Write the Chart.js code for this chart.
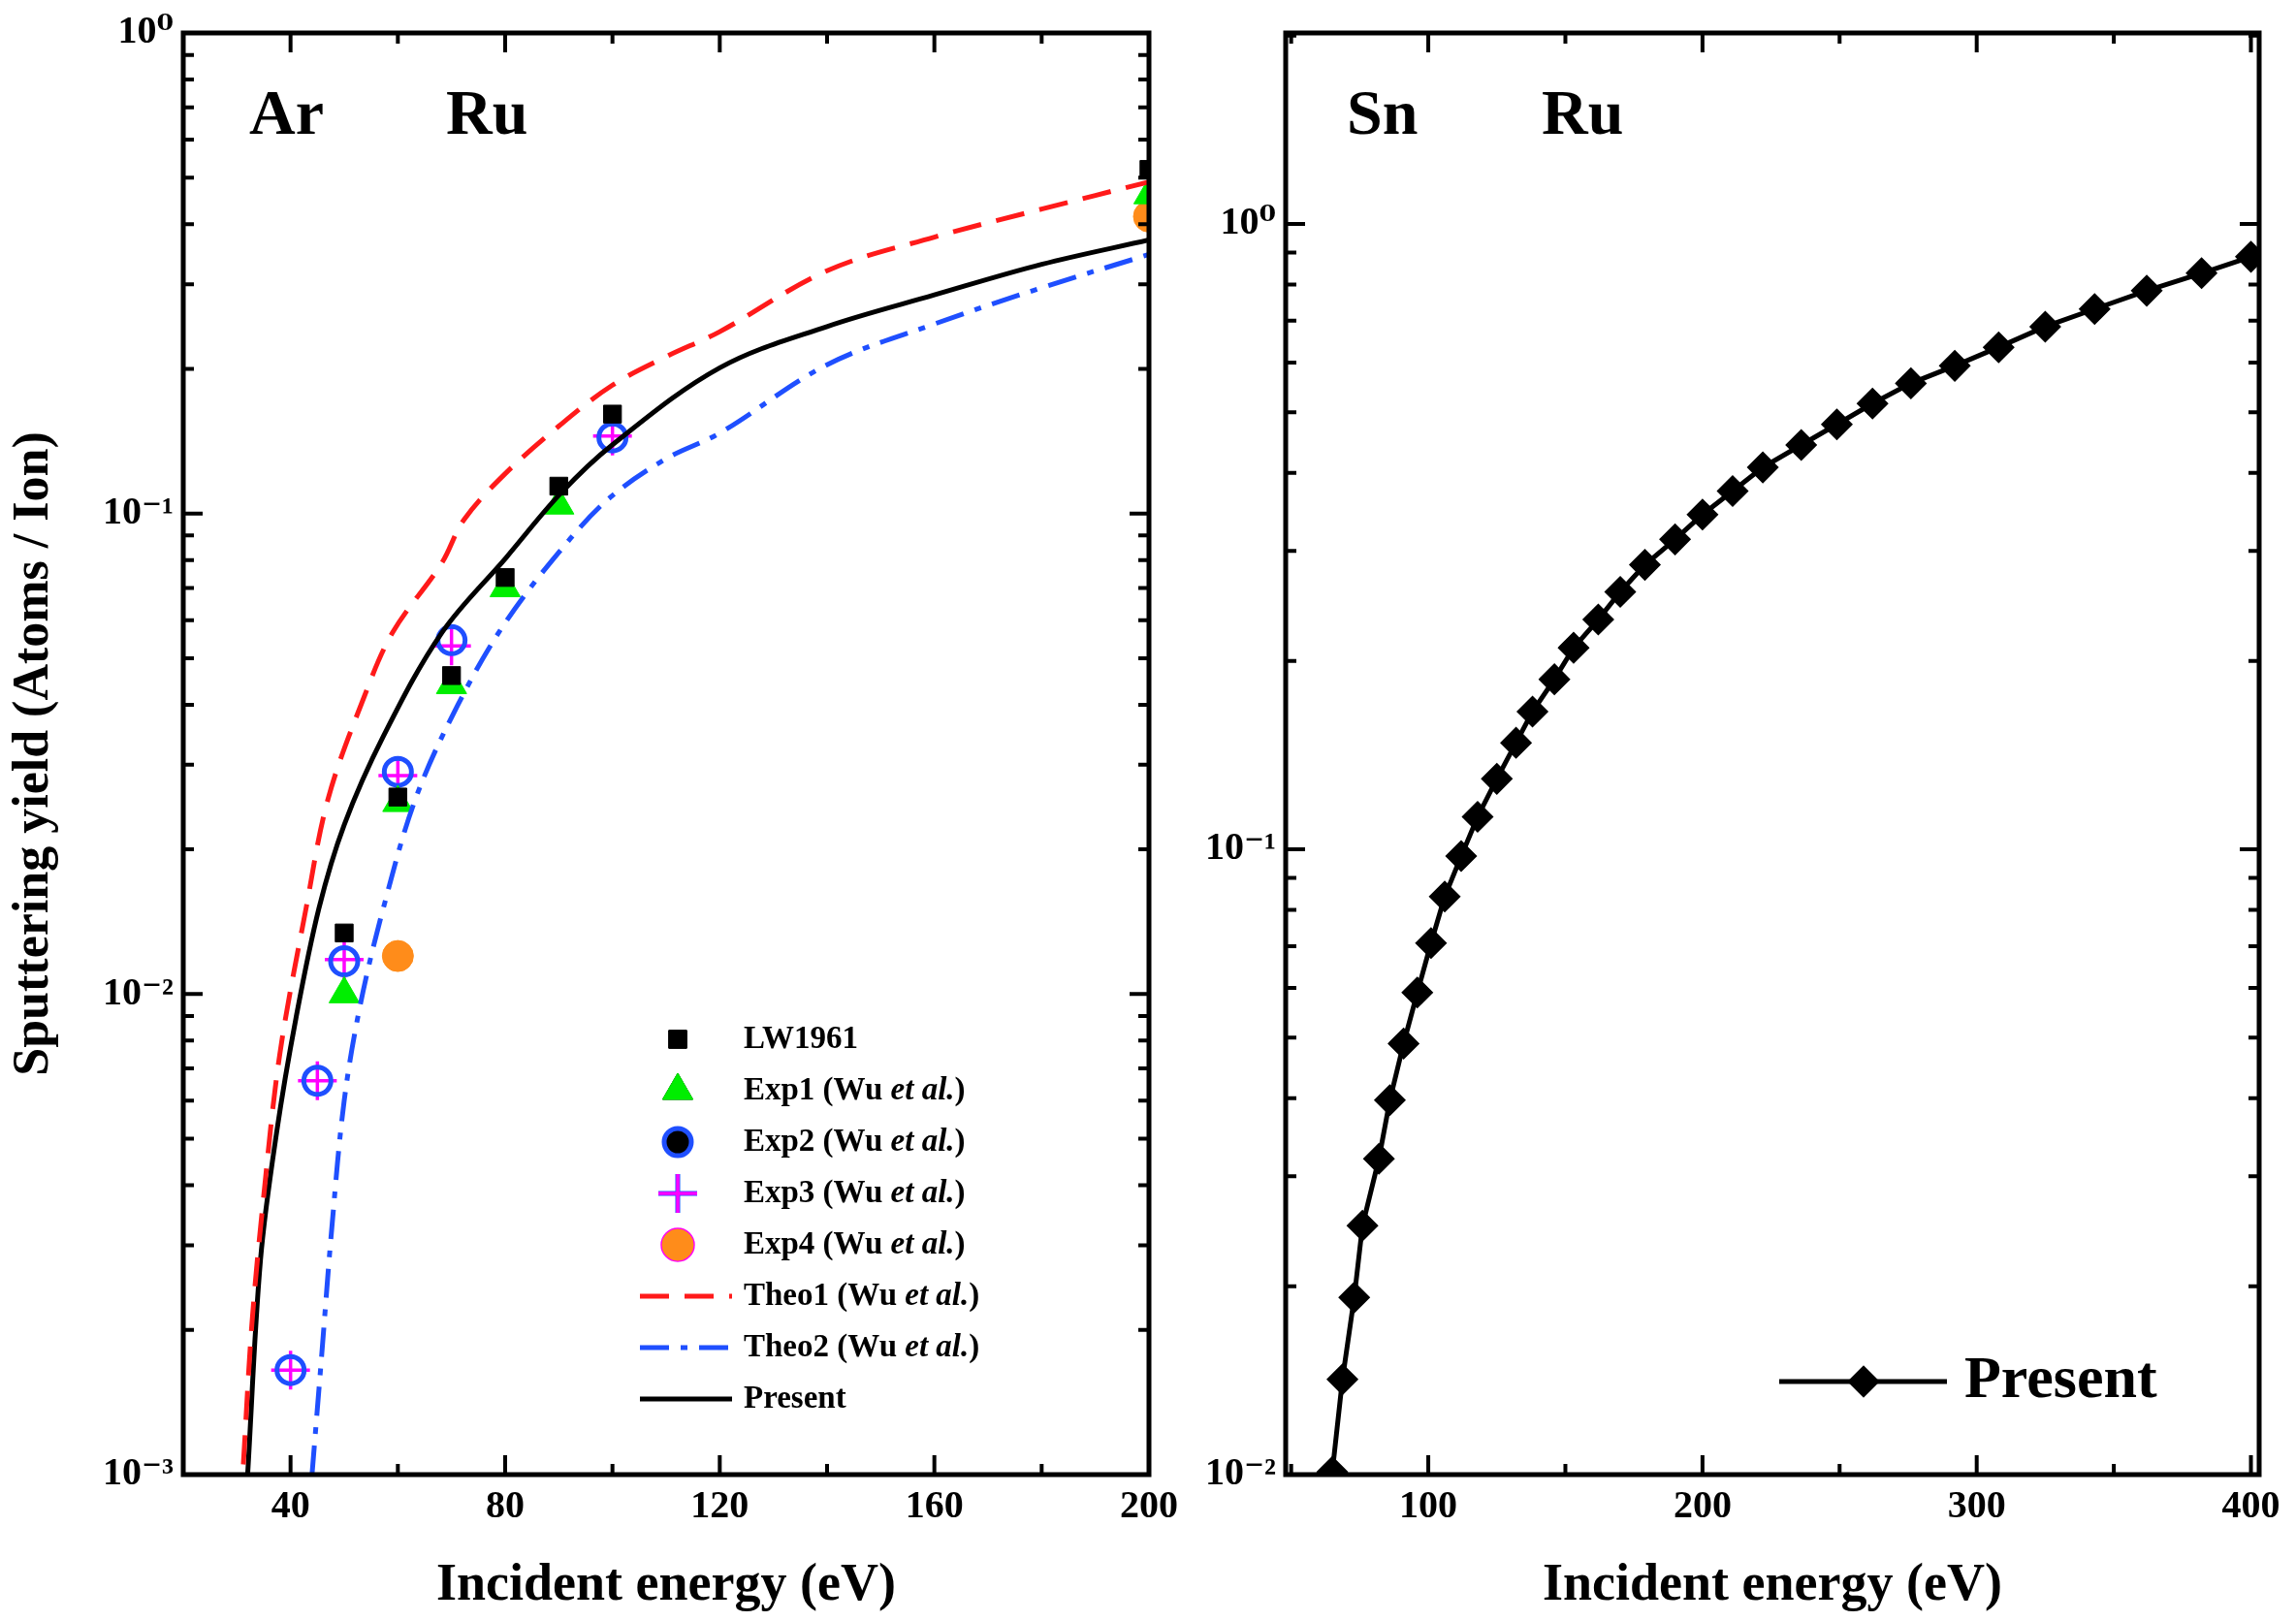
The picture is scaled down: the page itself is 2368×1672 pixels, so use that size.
<!DOCTYPE html>
<html>
<head>
<meta charset="utf-8">
<script src="https://cdn.jsdelivr.net/npm/chart.js@4.4.1/dist/chart.umd.min.js"></script>
<style>
body { margin: 0; background: #fff; width: 2368px; height: 1672px; position: relative; overflow: hidden; }
#c1 { position: absolute; left: 0; top: 0; }
#c2 { position: absolute; left: 1240px; top: 0; }
</style>
</head>
<body>
<canvas id="c1" width="1240" height="1672"></canvas>
<canvas id="c2" width="1128" height="1672"></canvas>
<script>
// ---- left panel: Ar -> Ru ----
const lwE = [50, 60, 70, 80, 90, 100, 200];
const lwY = [0.0134, 0.0257, 0.046, 0.0736, 0.114, 0.161, 0.52];
const exp1E = [50, 60, 70, 80, 90, 200];
const exp1Y = [0.0100, 0.025, 0.044, 0.070, 0.104, 0.46];
const exp2E = [40, 45, 50, 60, 70, 100];
const exp2Y = [0.00165, 0.0066, 0.0117, 0.029, 0.0545, 0.144];
const exp3E = [40, 45, 50, 60, 70, 100];
const exp3Y = [0.00165, 0.0066, 0.0118, 0.0285, 0.053, 0.145];
const exp4E = [60, 200];
const exp4Y = [0.012, 0.415];
const theo1E = [31.2, 32.8, 35, 38, 42.9, 47, 53.7, 59, 68.2, 72.3, 80, 90, 100, 110, 120, 140, 160, 180, 200];
const theo1Y = [0.00105, 0.00206, 0.0038, 0.0075, 0.0151, 0.0255, 0.0415, 0.0565, 0.0789, 0.097, 0.121, 0.152, 0.185, 0.212, 0.239, 0.32, 0.376, 0.43, 0.49];
const theo2E = [44, 45.8, 47.7, 50, 53, 57.3, 63.3, 71.2, 80.2, 92.2, 100, 110, 120, 140, 160, 180, 200];
const theo2Y = [0.001, 0.00177, 0.00327, 0.006, 0.0095, 0.0151, 0.0255, 0.04, 0.0597, 0.0888, 0.109, 0.13, 0.147, 0.204, 0.248, 0.295, 0.346];
const presE = [32, 34.4, 37.4, 41, 45.3, 50, 57.3, 68.2, 80.2, 90.3, 100, 120, 140, 160, 180, 200];
const presY = [0.001, 0.0028, 0.00515, 0.0089, 0.0151, 0.0225, 0.0344, 0.0565, 0.081, 0.110, 0.139, 0.201, 0.245, 0.285, 0.33, 0.371];

// ---- right panel: Sn -> Ru ----
const snE = [65, 68.7, 73, 76, 82, 86, 91, 96, 101, 106, 112, 118, 125, 132, 138, 146, 153, 162, 170, 179, 190, 200, 211, 222, 236, 249, 262, 276, 292, 308, 325, 343, 362, 382, 400];
const snY = [0.0101, 0.0142, 0.0192, 0.025, 0.032, 0.0397, 0.0489, 0.059, 0.0708, 0.084, 0.0975, 0.1127, 0.1296, 0.148, 0.166, 0.187, 0.21, 0.233, 0.258, 0.285, 0.313, 0.343, 0.374, 0.408, 0.443, 0.478, 0.516, 0.556, 0.593, 0.635, 0.685, 0.731, 0.782, 0.834, 0.886];

const xTicksL = [40, 80, 120, 160, 200];
const xMinorL = [20, 60, 100, 140, 180];
const yTicksL = [0.001, 0.01, 0.1, 1];
const xTicksR = [100, 200, 300, 400];
const xMinorR = [50, 150, 250, 350];
const yTicksR = [0.01, 0.1, 1];

const FONT = '"Liberation Serif", "DejaVu Serif", serif';
const sup = {'-': '\u207B', '0': '\u2070', '1': '\u00B9', '2': '\u00B2', '3': '\u00B3'};
function powLabel(v) {
  const e = String(Math.round(Math.log10(v)));
  return '10' + e.split('').map(ch => sup[ch]).join('');
}
const pts = (xs, ys) => xs.map((x, i) => ({x: x, y: ys[i]}));

function minorLog(ticks) {
  const out = [];
  for (let i = 0; i < ticks.length; i++) {
    for (let k = 2; k <= 9; k++) out.push(ticks[i] * k);
  }
  return out;
}

// frame + inward ticks + labels
const framePlugin = {
  id: 'frame',
  afterDatasetsDraw(chart, args, opts) {
    const c = chart.ctx, a = chart.chartArea;
    const sx = chart.scales.x, sy = chart.scales.y;
    c.save();
    c.strokeStyle = '#000';
    c.lineWidth = 5;
    c.strokeRect(a.left, a.top, a.right - a.left, a.bottom - a.top);
    c.lineWidth = 4;
    const tick = (v, len, axis) => {
      c.beginPath();
      if (axis === 'x') {
        const p = sx.getPixelForValue(v);
        if (p < a.left || p > a.right) return;
        c.moveTo(p, a.bottom); c.lineTo(p, a.bottom - len);
        c.moveTo(p, a.top); c.lineTo(p, a.top + len);
      } else {
        const p = sy.getPixelForValue(v);
        if (p < a.top - 1 || p > a.bottom + 1) return;
        c.moveTo(a.left, p); c.lineTo(a.left + len, p);
        c.moveTo(a.right, p); c.lineTo(a.right - len, p);
      }
      c.stroke();
    };
    opts.xMajor.forEach(v => tick(v, 20, 'x'));
    opts.xMinor.forEach(v => tick(v, 11, 'x'));
    opts.yMajor.forEach(v => tick(v, 20, 'y'));
    minorLog(opts.yMajor).forEach(v => tick(v, 11, 'y'));
    c.fillStyle = '#000';
    c.font = 'bold 66px ' + FONT;
    c.textBaseline = 'middle';
    opts.labels.forEach(l => c.fillText(l[0], l[1], l[2]));
    c.restore();
  }
};

function legendText(c, x, y, parts) {
  parts.forEach(p => {
    c.font = (p[1] ? 'italic bold ' : 'bold ') + '33px ' + FONT;
    c.fillText(p[0], x, y);
    x += c.measureText(p[0]).width;
  });
}

const legendPlugin = {
  id: 'customLegend',
  afterDraw(chart, args, opts) {
    if (!opts.rows) return;
    const c = chart.ctx;
    c.save();
    c.textBaseline = 'middle';
    c.fillStyle = '#000';
    opts.rows.forEach((r, i) => {
      const y = opts.y + i * opts.dy;
      const ds = chart.data.datasets[r.ds];
      if (r.line) {
        c.strokeStyle = ds.borderColor;
        c.lineWidth = ds.borderWidth;
        c.setLineDash(ds.borderDash || []);
        c.beginPath(); c.moveTo(opts.lineX0, y); c.lineTo(opts.lineX1, y); c.stroke();
        c.setLineDash([]);
      }
      if (r.point) {
        Chart.helpers.drawPoint(c, {
          pointStyle: ds.pointStyle, radius: ds.pointRadius, rotation: 0,
          borderWidth: ds.borderWidth
        }, opts.markX, y);
        c.fillStyle = ds.backgroundColor; c.strokeStyle = ds.borderColor; c.lineWidth = ds.borderWidth;
        c.beginPath();
        Chart.helpers.drawPoint(c, {pointStyle: ds.pointStyle, radius: ds.pointRadius, rotation: 0, borderWidth: ds.borderWidth}, opts.markX, y);
        c.fillStyle = '#000';
      }
      legendText(c, opts.textX, y, r.text);
    });
    c.restore();
  }
};

function axisCommon(min, max, type, majors, cbk, fit) {
  return {
    type: type, min: min, max: max,
    grid: {display: false, drawTicks: false},
    border: {display: false},
    afterBuildTicks: s => { s.ticks = majors.map(v => ({value: v})); },
    afterFit: fit,
    ticks: {
      autoSkip: false, maxRotation: 0, padding: 10, color: '#000',
      font: {family: FONT, size: 40, weight: 'bold'},
      callback: cbk
    }
  };
}

const lineDs = (data, color, dash) => ({
  type: 'line', data: data, borderColor: color, backgroundColor: color,
  borderWidth: 5, borderDash: dash, pointRadius: 0, fill: false, tension: 0.35
});
const ptDs = (data, style, fillC, borderC, r, bw) => ({
  type: 'scatter', data: data, pointStyle: style, pointRadius: r,
  backgroundColor: fillC, borderColor: borderC, borderWidth: bw,
  pointBackgroundColor: fillC, pointBorderColor: borderC, pointBorderWidth: bw,
  clip: 0
});

new Chart(document.getElementById('c1'), {
  data: {
    datasets: [
      lineDs(pts(theo1E, theo1Y), '#ff1a1a', [30, 16]),
      lineDs(pts(theo2E, theo2Y), '#1f4fff', [30, 12, 7, 12]),
      lineDs(pts(presE, presY), '#000', []),
      ptDs(pts(lwE, lwY), 'rect', '#000', '#000', 13, 1),
      ptDs(pts(exp1E, exp1Y), 'triangle', '#00ee00', '#00ee00', 18, 1),
      ptDs(pts(exp2E, exp2Y), 'circle', 'rgba(0,0,0,0)', '#1f4fff', 14, 5),
      ptDs(pts(exp3E, exp3Y), 'cross', '#ff00ff', '#ff00ff', 20, 3.5),
      ptDs(pts(exp4E, exp4Y), 'circle', '#ff8c1a', '#ff8c1a', 16, 1)
    ]
  },
  options: {
    responsive: false, animation: false,
    layout: {padding: {top: 23, right: 55, left: 0, bottom: 0}},
    plugins: {
      legend: {display: false}, tooltip: {enabled: false},
      frame: {xMajor: xTicksL, xMinor: xMinorL, yMajor: yTicksL, labels: [['Ar', 257, 121], ['Ru', 460, 121]]},
      customLegend: {
        y: 1072, dy: 53, markX: 699, textX: 767, lineX0: 660, lineX1: 755,
        rows: [
          {ds: 3, point: true, text: [['LW1961', false]]},
          {ds: 4, point: true, text: [['Exp1 (Wu ', false], ['et al.', true], [')', false]]},
          {ds: 5, point: true, text: [['Exp2 (Wu ', false], ['et al.', true], [')', false]]},
          {ds: 6, point: true, text: [['Exp3 (Wu ', false], ['et al.', true], [')', false]]},
          {ds: 7, point: true, text: [['Exp4 (Wu ', false], ['et al.', true], [')', false]]},
          {ds: 0, line: true, text: [['Theo1 (Wu ', false], ['et al.', true], [')', false]]},
          {ds: 1, line: true, text: [['Theo2 (Wu ', false], ['et al.', true], [')', false]]},
          {ds: 2, line: true, text: [['Present', false]]}
        ]
      }
    },
    scales: {
      x: Object.assign(axisCommon(20, 200, 'linear', xTicksL, v => v, s => { s.height = 151; }), {
        title: {display: true, text: 'Incident energy (eV)', color: '#000', padding: {top: 0},
                font: {family: FONT, size: 54, weight: 'bold'}}
      }),
      y: Object.assign(axisCommon(0.001, 1, 'logarithmic', yTicksL, v => powLabel(v), s => { s.width = 189; }), {
        title: {display: true, text: 'Sputtering yield (Atoms / Ion)', color: '#000', padding: {bottom: 4},
                font: {family: FONT, size: 52, weight: 'bold'}}
      })
    }
  },
  plugins: [framePlugin, legendPlugin]
});

new Chart(document.getElementById('c2'), {
  data: {
    datasets: [
      {type: 'line', data: pts(snE, snY), borderColor: '#000', backgroundColor: '#000', borderWidth: 5,
       pointStyle: 'rectRot', pointRadius: 13, pointBackgroundColor: '#000', pointBorderColor: '#000',
       fill: false, tension: 0, clip: 0}
    ]
  },
  options: {
    responsive: false, animation: false,
    layout: {padding: {top: 23, right: 38, left: 0, bottom: 0}},
    plugins: {
      legend: {display: false}, tooltip: {enabled: false},
      frame: {xMajor: xTicksR, xMinor: xMinorR, yMajor: yTicksR, labels: [['Sn', 149, 121], ['Ru', 350, 121]]},
      customLegend: {
        y: 1425, dy: 0, markX: 682, textX: 786, lineX0: 595, lineX1: 768,
        rows: [{ds: 0, line: true, point: true, text: []}]
      }
    },
    scales: {
      x: Object.assign(axisCommon(48, 403, 'linear', xTicksR, v => v, s => { s.height = 151; }), {
        title: {display: true, text: 'Incident energy (eV)', color: '#000', padding: {top: 0},
                font: {family: FONT, size: 54, weight: 'bold'}}
      }),
      y: axisCommon(0.01, 2.02, 'logarithmic', yTicksR, v => powLabel(v), s => { s.width = 86; })
    }
  },
  plugins: [framePlugin, legendPlugin, {
    id: 'bigLabel',
    afterDraw(chart) {
      const c = chart.ctx;
      c.save();
      c.fillStyle = '#000';
      c.textBaseline = 'middle';
      c.font = 'bold 62px ' + FONT;
      c.fillText('Present', 786, 1425);
      c.restore();
    }
  }]
});
</script>
</body>
</html>
